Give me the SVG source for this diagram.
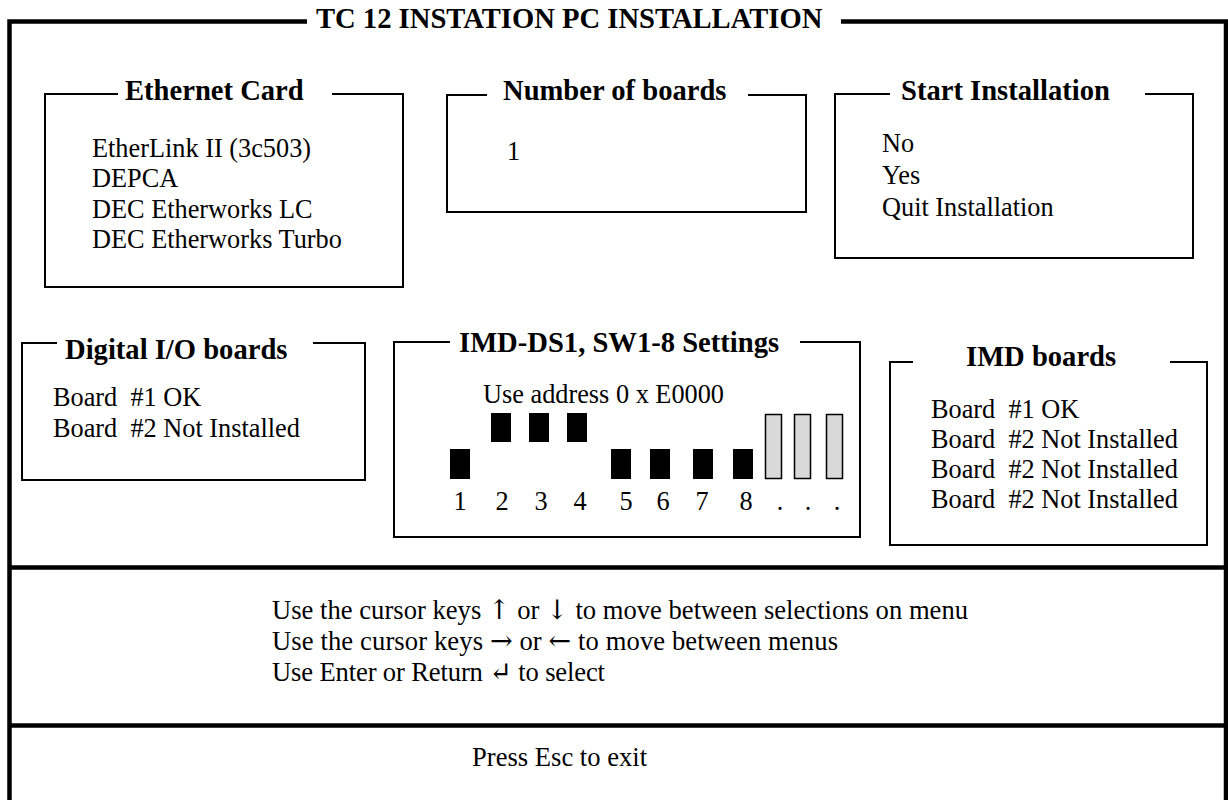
<svg xmlns="http://www.w3.org/2000/svg" width="1228" height="800" viewBox="0 0 1228 800">
  <style>
    .frame { fill: none; stroke: #000; stroke-width: 4.5; }
    .box { fill: none; stroke: #000; stroke-width: 2; }
    .title { font-family: "Liberation Serif", "Times New Roman", serif; font-weight: bold; font-size: 28.6px; fill: #000; }
    .txt { font-family: "Liberation Serif", "Times New Roman", "DejaVu Serif", serif; font-size: 26.3px; fill: #000; }
    .help { font-size: 26.6px; }
    .arr { font-family: "DejaVu Serif", serif; font-size: 27px; }
    .sw { fill: #000; }
    .sw-off { fill: #d9d9d9; stroke: #000; stroke-width: 1.5; }
  </style>

  <rect width="1228" height="800" fill="#fff"/>

  <!-- outer window frame with title gap -->
  <g id="window">
    <path class="frame" d="M307 21.5 H9.5 V800"/>
    <path class="frame" d="M841 21.5 H1226 V800"/>
    <line class="frame" x1="9.5" y1="567.5" x2="1226" y2="567.5"/>
    <line class="frame" x1="9.5" y1="725.5" x2="1226" y2="725.5"/>
    <text class="title" x="316" y="28">TC 12 INSTATION PC INSTALLATION</text>
  </g>

  <!-- Ethernet Card menu -->
  <g id="ethernet-card">
    <path class="box" d="M118 94 H45 V287 H403 V94 H332"/>
    <text class="title" x="125" y="100">Ethernet Card</text>
    <text class="txt" x="92" y="157">EtherLink II (3c503)</text>
    <text class="txt" x="92" y="187">DEPCA</text>
    <text class="txt" x="92" y="218">DEC Etherworks LC</text>
    <text class="txt" x="92" y="248">DEC Etherworks Turbo</text>
  </g>

  <!-- Number of boards -->
  <g id="number-of-boards">
    <path class="box" d="M487 95 H447 V212 H806 V95 H748"/>
    <text class="title" x="503" y="100">Number of boards</text>
    <text class="txt" x="507" y="160">1</text>
  </g>

  <!-- Start Installation menu -->
  <g id="start-installation">
    <path class="box" d="M890 94 H835 V258 H1193 V94 H1145"/>
    <text class="title" x="901" y="100">Start Installation</text>
    <text class="txt" x="882" y="152">No</text>
    <text class="txt" x="882" y="184">Yes</text>
    <text class="txt" x="882" y="216">Quit Installation</text>
  </g>

  <!-- Digital I/O boards -->
  <g id="digital-io-boards">
    <path class="box" d="M57 343 H22 V480 H365 V343 H313"/>
    <text class="title" x="65" y="359">Digital I/O boards</text>
    <text class="txt" x="53" y="406" xml:space="preserve">Board  #1 OK</text>
    <text class="txt" x="53" y="437" xml:space="preserve">Board  #2 Not Installed</text>
  </g>

  <!-- IMD-DS1 DIP switch settings -->
  <g id="imd-ds1-settings">
    <path class="box" d="M450 342 H394 V537 H860 V342 H800"/>
    <text class="title" x="459" y="352">IMD-DS1, SW1-8 Settings</text>
    <text class="txt" x="483" y="403">Use address 0 x E0000</text>
    <rect class="sw" x="450" y="449" width="20" height="30"/>
    <rect class="sw" x="491" y="413" width="20" height="29"/>
    <rect class="sw" x="529" y="413" width="20" height="29"/>
    <rect class="sw" x="567" y="413" width="20" height="29"/>
    <rect class="sw" x="611" y="449" width="20" height="30"/>
    <rect class="sw" x="650" y="449" width="20" height="30"/>
    <rect class="sw" x="693" y="449" width="20" height="30"/>
    <rect class="sw" x="733" y="449" width="20" height="30"/>
    <rect class="sw-off" x="765.5" y="414.5" width="16" height="64"/>
    <rect class="sw-off" x="794.5" y="414.5" width="16" height="64"/>
    <rect class="sw-off" x="826.5" y="414.5" width="16" height="64"/>
    <g class="txt" text-anchor="middle">
      <text x="460" y="510">1</text>
      <text x="502" y="510">2</text>
      <text x="541" y="510">3</text>
      <text x="580" y="510">4</text>
      <text x="626" y="510">5</text>
      <text x="663" y="510">6</text>
      <text x="702" y="510">7</text>
      <text x="746" y="510">8</text>
      <text x="780" y="510">.</text>
      <text x="808" y="510">.</text>
      <text x="837" y="510">.</text>
    </g>
  </g>

  <!-- IMD boards -->
  <g id="imd-boards">
    <path class="box" d="M913 362 H890 V545 H1207 V362 H1170"/>
    <text class="title" x="966" y="366">IMD boards</text>
    <text class="txt" x="931" y="418" xml:space="preserve">Board  #1 OK</text>
    <text class="txt" x="931" y="448" xml:space="preserve">Board  #2 Not Installed</text>
    <text class="txt" x="931" y="478" xml:space="preserve">Board  #2 Not Installed</text>
    <text class="txt" x="931" y="508" xml:space="preserve">Board  #2 Not Installed</text>
  </g>

  <!-- key help panel -->
  <g id="help">
    <text class="txt help" x="272" y="619" textLength="696" lengthAdjust="spacing">Use the cursor keys <tspan class="arr">↑</tspan> or <tspan class="arr">↓</tspan> to move between selections on menu</text>
    <text class="txt help" x="272" y="650" textLength="566" lengthAdjust="spacing">Use the cursor keys <tspan class="arr">→</tspan> or <tspan class="arr">←</tspan> to move between menus</text>
    <text class="txt help" x="272" y="681" textLength="333" lengthAdjust="spacing">Use Enter or Return <tspan class="arr">↵</tspan> to select</text>
  </g>

  <!-- exit hint -->
  <g id="exit">
    <text class="txt help" x="472" y="766">Press Esc to exit</text>
  </g>

  <g id="connectors"></g>
</svg>
